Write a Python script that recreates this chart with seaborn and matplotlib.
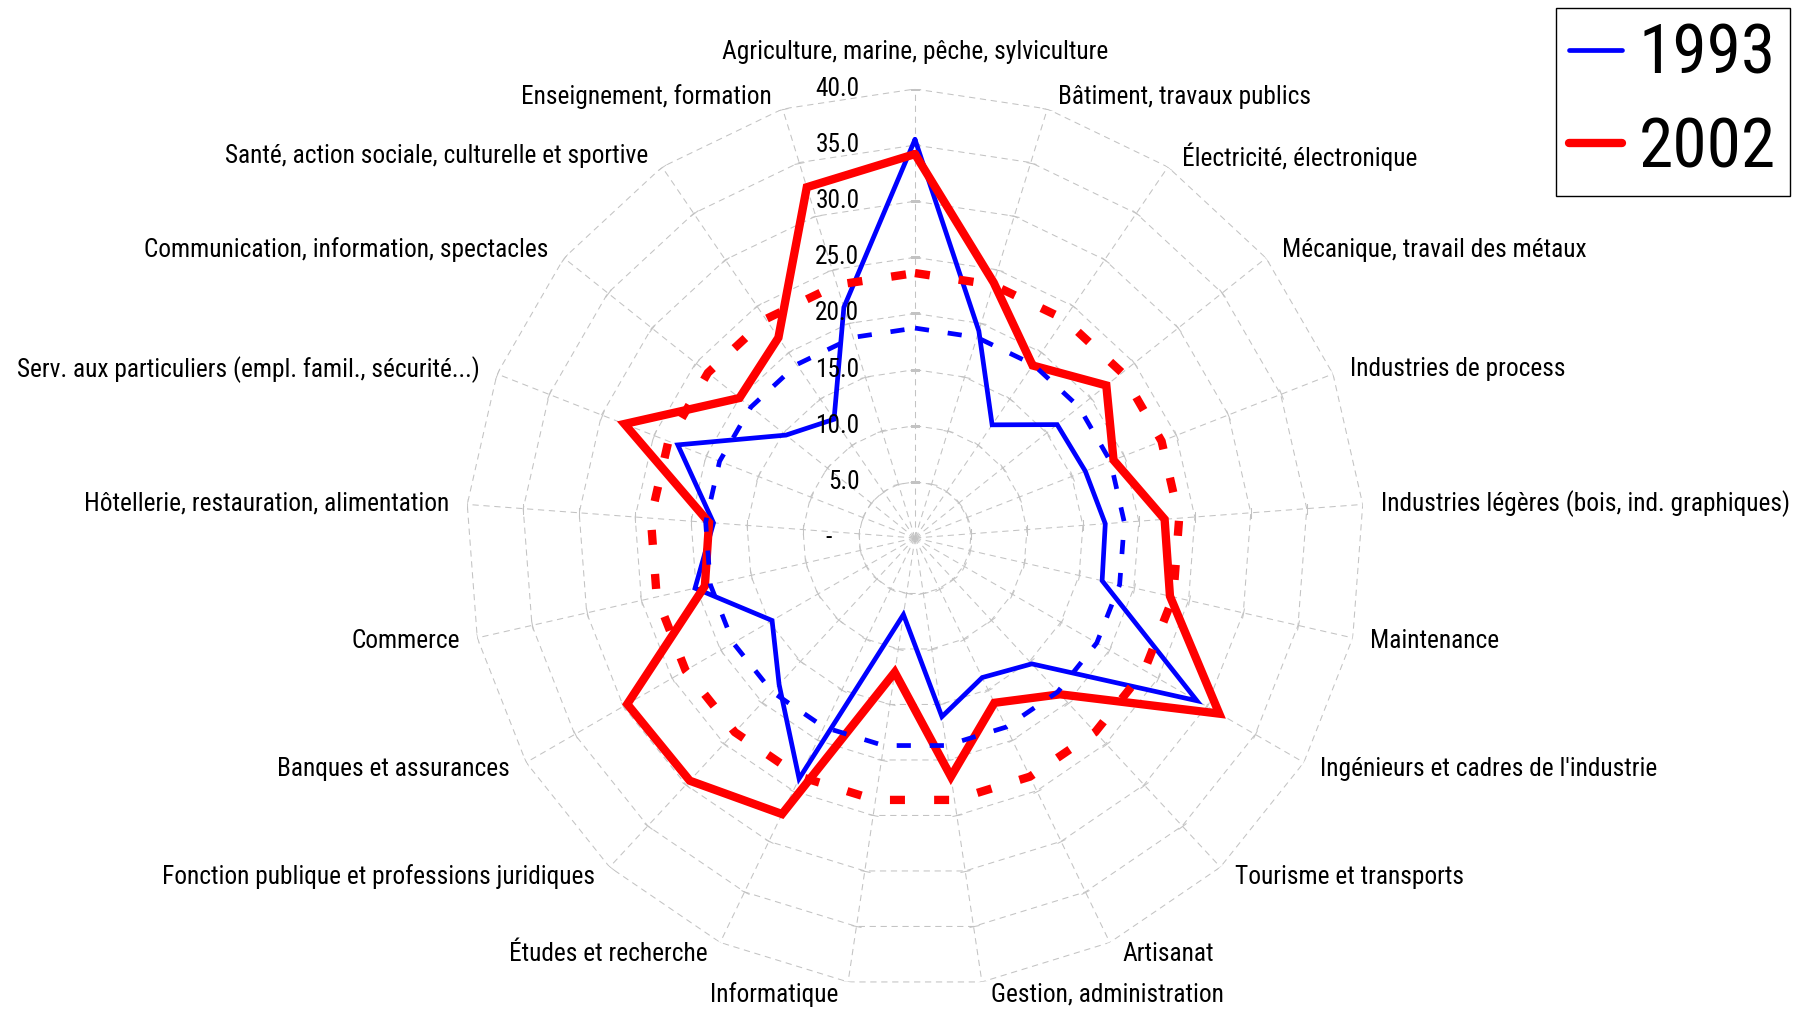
import numpy as np
import pandas as pd
import seaborn as sns
import matplotlib
matplotlib.use('Agg')
import matplotlib.pyplot as plt
from matplotlib import font_manager
from matplotlib.markers import MarkerStyle
from matplotlib.transforms import Affine2D

# familles professionnelles, dans le sens horaire depuis le haut
categories = [
    "Agriculture, marine, pêche, sylviculture",
    "Bâtiment, travaux publics",
    "Électricité, électronique",
    "Mécanique, travail des métaux",
    "Industries de process",
    "Industries légères (bois, ind. graphiques)",
    "Maintenance",
    "Ingénieurs et cadres de l'industrie",
    "Tourisme et transports",
    "Artisanat",
    "Gestion, administration",
    "Informatique",
    "Études et recherche",
    "Fonction publique et professions juridiques",
    "Banques et assurances",
    "Commerce",
    "Hôtellerie, restauration, alimentation",
    "Serv. aux particuliers (empl. famil., sécurité...)",
    "Communication, information, spectacles",
    "Santé, action sociale, culturelle et sportive",
    "Enseignement, formation",
]
val_1993 = [35.5, 19.3, 12.2, 16.2, 16.3, 17.0, 17.1, 29.0, 15.3, 13.8, 16.1,
            6.9, 23.8, 17.8, 14.7, 20.1, 18.0, 22.7, 14.7, 12.8, 21.5]
val_2002 = [34.2, 23.8, 18.6, 21.8, 19.0, 22.3, 23.3, 31.3, 19.0, 16.3, 21.5,
            12.1, 27.3, 29.5, 29.6, 19.2, 18.4, 27.8, 20.0, 21.6, 32.7]
moy_1993 = 18.7
moy_2002 = 23.6
niveaux = [0, 5, 10, 15, 20, 25, 30, 35, 40]
etiq_niveaux = ["-", "5.0", "10.0", "15.0", "20.0", "25.0", "30.0", "35.0", "40.0"]

sns.set_style('white')
noms = {f.name for f in font_manager.fontManager.ttflist}
police = 'Liberation Sans'
for p in ['Liberation Sans Narrow', 'Arial Narrow', 'Roboto Condensed', 'Archivo Narrow']:
    if p in noms:
        police = p
        break
plt.rcParams['font.family'] = [police, 'DejaVu Sans']
plt.rcParams['text.color'] = 'black'
TAILLE = 18.3

n = len(categories)
angles = np.arange(n) * 2 * np.pi / n
tour = np.append(angles, 2 * np.pi)

df = pd.DataFrame({'angle': tour,
                   '1993': val_1993 + val_1993[:1],
                   '2002': val_2002 + val_2002[:1],
                   'moy1993': moy_1993,
                   'moy2002': moy_2002})

fig = plt.figure(figsize=(18.09, 10.10), dpi=100)
ax = fig.add_axes([0.2576, 0.0228, 0.4964, 0.8891], projection='polar')
ax.set_theta_zero_location('N')
ax.set_theta_direction(-1)
ax.grid(False)
ax.spines['polar'].set_visible(False)

# grille polygonale en pointillés
gris = '#c3c3c3'
for lv in niveaux[1:]:
    ax.plot(tour, [lv] * len(tour), color=gris, lw=0.75, ls=(0, (6, 4.5)), zorder=1)
for a in angles:
    ax.plot([a, a], [0, 40], color=gris, lw=0.75, ls=(0, (6, 4.5)), zorder=1)
    mk = MarkerStyle('_', transform=Affine2D().rotate_deg(-np.degrees(a)))
    ax.plot([a] * 8, niveaux[1:], ls='none', marker=mk, ms=7, mec=gris, mew=0.75, zorder=1)

sns.lineplot(data=df, x='angle', y='1993', sort=False, estimator=None, ax=ax,
             color='#0000ff', lw=3.4, legend=False, zorder=3)
l93 = ax.lines[-1]
sns.lineplot(data=df, x='angle', y='2002', sort=False, estimator=None, ax=ax,
             color='#ff0000', lw=6, legend=False, zorder=4)
l02 = ax.lines[-1]
sns.lineplot(data=df, x='angle', y='moy1993', sort=False, estimator=None, ax=ax,
             color='#0000ff', lw=3.4, ls=(0, (3.0, 4.0)), legend=False, zorder=5)
sns.lineplot(data=df, x='angle', y='moy2002', sort=False, estimator=None, ax=ax,
             color='#ff0000', lw=6, ls=(0, (1.8, 3.5)), legend=False, zorder=6)
for l in (l93, l02):
    l.set_solid_joinstyle('miter')
    l.set_solid_capstyle('round')

ax.set_ylim(0, 40)
ax.set_xticks([])
ax.set_yticks([])
ax.set_xlabel('')
ax.set_ylabel('')

# étiquettes de l'axe radial
for lv, t in zip(niveaux, etiq_niveaux):
    dx = -40 if lv > 0 else -60
    ax.annotate(t, xy=(0, lv), xytext=(dx, 0), textcoords='offset points',
                ha='right', va='center', fontsize=TAILLE, color='black', zorder=7)

# étiquettes des catégories
px = 0.72
for a, c in zip(angles, categories):
    s, co = np.sin(a), np.cos(a)
    if abs(s) < 0.05:
        ha, dx, dy = 'center', 0, 37
    else:
        ha = 'left' if s > 0 else 'right'
        dx = np.sign(s) * (8 + 10 * abs(s))
        dy = 13 * co
    ax.annotate(c, xy=(a, 40), xytext=(dx * px, dy * px), textcoords='offset points',
                ha=ha, va='center', fontsize=TAILLE, color='black', annotation_clip=False)

leg = fig.legend([l93, l02], ['1993', '2002'], loc='upper right',
                 bbox_to_anchor=(1790 / 1809, 1 - 8 / 1010), fontsize=50,
                 frameon=True, fancybox=False, edgecolor='black', framealpha=1,
                 handlelength=0.75, handletextpad=0.25, borderpad=0.2,
                 labelspacing=0.4, borderaxespad=0)
leg.get_frame().set_linewidth(1.0)
for t in leg.get_texts():
    t.set_color('black')

fig.savefig('out.png', dpi=100)
